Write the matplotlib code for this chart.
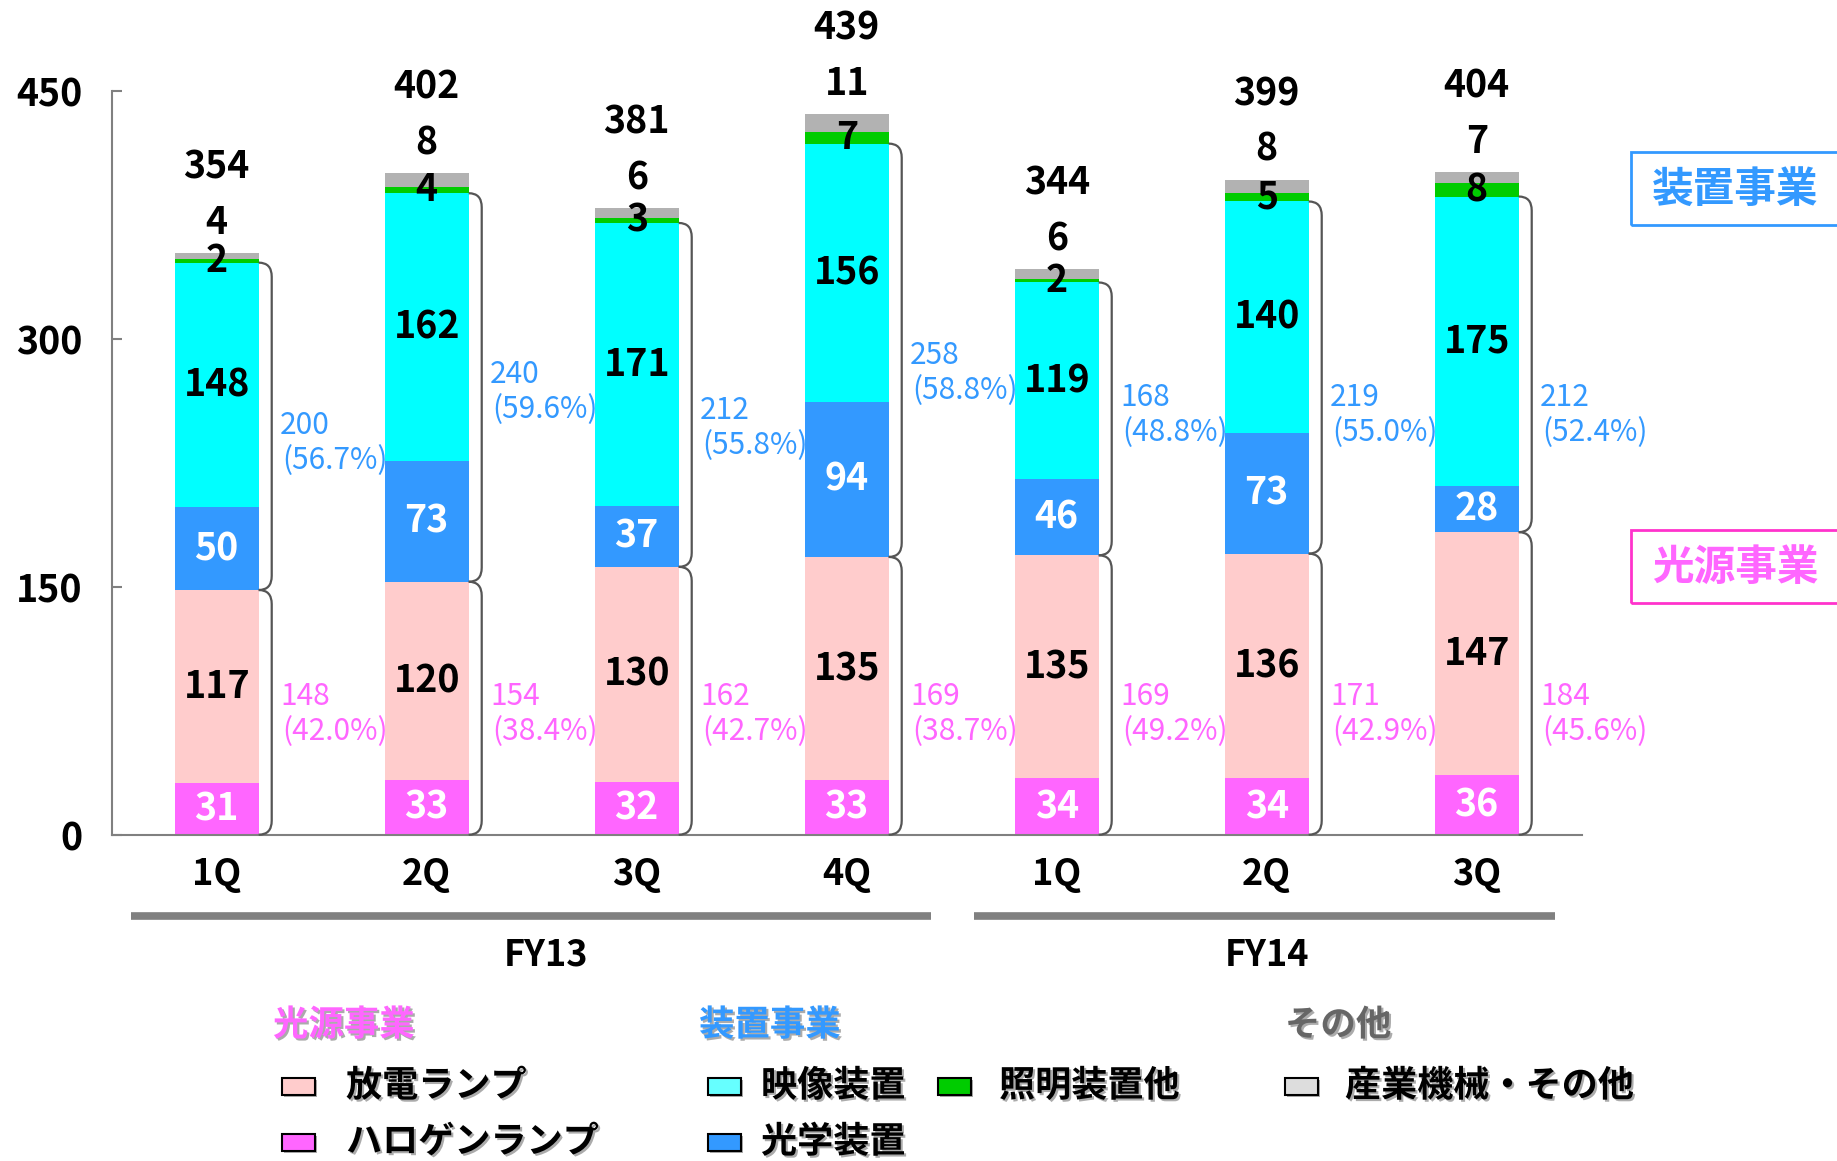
import matplotlib
matplotlib.use('Agg')
import matplotlib.pyplot as plt
import matplotlib.patheffects as pe
from matplotlib.patches import Rectangle, PathPatch
from matplotlib.path import Path
from matplotlib.transforms import blended_transform_factory
import numpy as np

plt.rcParams['font.family'] = ['Noto Sans CJK JP', 'DejaVu Sans']

# data
quarters = ['1Q', '2Q', '3Q', '4Q', '1Q', '2Q', '3Q']
halogen = [31, 33, 32, 33, 34, 34, 36]
discharge = [117, 120, 130, 135, 135, 136, 147]
optical = [50, 73, 37, 94, 46, 73, 28]
video = [148, 162, 171, 156, 119, 140, 175]
lighting = [2, 4, 3, 7, 2, 5, 8]
other = [4, 8, 6, 11, 6, 8, 7]
totals = [354, 402, 381, 439, 344, 399, 404]
light_total = [148, 154, 162, 169, 169, 171, 184]
light_pct = ['42.0%', '38.4%', '42.7%', '38.7%', '49.2%', '42.9%', '45.6%']
equip_total = [200, 240, 212, 258, 168, 219, 212]
equip_pct = ['56.7%', '59.6%', '55.8%', '58.8%', '48.8%', '55.0%', '52.4%']
groups = ['FY13', 'FY14']

C_HAL = '#FF66FF'
C_DIS = '#FFCCCC'
C_OPT = '#3399FF'
C_VID = '#00FFFF'
C_LIT = '#00CC00'
C_OTH = '#B2B2B2'
BLUE = '#3399FF'
PINK = '#FF66FF'
GRAY = '#808080'

W, H = 1837, 1161
fig = plt.figure(figsize=(W / 100, H / 100), dpi=100)
ax = fig.add_axes([111.7 / W, 1 - 834.7 / H, 1470 / W, 744 / H])

x = np.arange(len(quarters))
bw = 0.4
layers = [
    (halogen, C_HAL, 'white'),
    (discharge, C_DIS, 'black'),
    (optical, C_OPT, 'white'),
    (video, C_VID, 'black'),
    (lighting, C_LIT, 'black'),
    (other, C_OTH, None),
]
bottom = np.zeros(len(x))
bottoms = []
for vals, col, tc in layers:
    vals = np.array(vals, dtype=float)
    ax.bar(x, vals, bw, bottom=bottom, color=col, linewidth=0, zorder=2)
    bottoms.append(bottom.copy())
    if tc:
        for xi, b, v in zip(x, bottom, vals):
            ax.text(xi, b + v / 2, f'{int(v)}', ha='center', va='center',
                    color=tc, fontsize=27, fontweight='bold', zorder=4)
    bottom = bottom + vals
tops = bottom

# other + total labels above each bar
for xi, t, o, tot in zip(x, tops, other, totals):
    ax.annotate(f'{o}', xy=(xi, t), xytext=(0, 22), textcoords='offset points',
                ha='center', va='center', fontsize=27, fontweight='bold',
                annotation_clip=False)
    ax.annotate(f'{tot}', xy=(xi, t), xytext=(0, 62), textcoords='offset points',
                ha='center', va='center', fontsize=27, fontweight='bold',
                annotation_clip=False)


def bracket(xr, y0, y1, dx=0.062, r=8.5):
    verts = [(xr, y0), (xr + dx, y0), (xr + dx, y0 + r),
             (xr + dx, y1 - r), (xr + dx, y1), (xr, y1)]
    codes = [Path.MOVETO, Path.CURVE3, Path.CURVE3,
             Path.LINETO, Path.CURVE3, Path.CURVE3]
    ax.add_patch(PathPatch(Path(verts, codes), fill=False, edgecolor='#555555',
                           linewidth=1.6, clip_on=False, zorder=3))


# label heights for the segment totals (as placed on the slide)
eq_label_y = [237, 268, 246, 279, 254, 254, 254]
light_label_y = 73

for i, xi in enumerate(x):
    xr = xi + bw / 2
    ls_top = bottoms[2][i]
    eq_top = bottoms[4][i]
    bracket(xr, 0, ls_top)
    bracket(xr, ls_top, eq_top)
    ax.annotate(f'{equip_total[i]}', xy=(xr, eq_label_y[i]), xytext=(15.5, 12.6),
                textcoords='offset points', ha='left', va='center',
                color=BLUE, fontsize=21.5, annotation_clip=False)
    ax.annotate(f'({equip_pct[i]})', xy=(xr, eq_label_y[i]), xytext=(17, -12.6),
                textcoords='offset points', ha='left', va='center',
                color=BLUE, fontsize=21.5, annotation_clip=False)
    ax.annotate(f'{light_total[i]}', xy=(xr, light_label_y), xytext=(15.5, 12.6),
                textcoords='offset points', ha='left', va='center',
                color=PINK, fontsize=21.5, annotation_clip=False)
    ax.annotate(f'({light_pct[i]})', xy=(xr, light_label_y), xytext=(17, -12.6),
                textcoords='offset points', ha='left', va='center',
                color=PINK, fontsize=21.5, annotation_clip=False)

# axes styling
ax.set_xlim(-0.5, 6.5)
ax.set_ylim(0, 450)
for s in ['top', 'right']:
    ax.spines[s].set_visible(False)
for s in ['left', 'bottom']:
    ax.spines[s].set_color(GRAY)
    ax.spines[s].set_linewidth(1.5)
ax.set_yticks([0, 150, 300, 450])
ax.tick_params(axis='y', direction='in', length=7, width=1.5, color=GRAY,
               labelsize=27, pad=21)
for lbl in ax.get_yticklabels():
    lbl.set_fontweight('bold')
ax.set_xticks([])

# quarter labels, fiscal-year bars
tr = blended_transform_factory(ax.transData, ax.transAxes)
for xi, q in zip(x, quarters):
    ax.text(xi, -0.054, q, transform=tr, ha='center', va='center',
            fontsize=26, fontweight='bold')
for name, (a, b), xc in zip(groups, [(-0.41, 3.40), (3.605, 6.375)], [1.57, 5.0]):
    ax.plot([a, b], [-0.109, -0.109], transform=tr, color=GRAY, linewidth=5.5,
            solid_capstyle='butt', clip_on=False)
    ax.text(xc, -0.162, name, transform=tr, ha='center', va='center',
            fontsize=26, fontweight='bold')


def fx(px):
    return px / W


def fy(py):
    return 1 - py / H


# segment boxes at the right edge
fig.patches.append(Rectangle((fx(1631), fy(225)), 0.2, 73 / H, transform=fig.transFigure,
                             fill=False, edgecolor=BLUE, linewidth=2))
fig.text(fx(1735), fy(190), '装置事業', ha='center', va='center', color=BLUE,
         fontsize=30, fontweight='bold')
fig.patches.append(Rectangle((fx(1631), fy(603)), 0.2, 73 / H, transform=fig.transFigure,
                             fill=False, edgecolor='#FF33CC', linewidth=2))
fig.text(fx(1735), fy(568), '光源事業', ha='center', va='center', color=PINK,
         fontsize=30, fontweight='bold')

# legend
shadow = [pe.withSimplePatchShadow(offset=(1.5, -1.5), shadow_rgbFace='#888888', alpha=0.7)]
headers = [('光源事業', 273, PINK), ('装置事業', 699, BLUE), ('その他', 1285, '#666666')]
for txt, px0, col in headers:
    fig.text(fx(px0), fy(1025), txt, ha='left', va='center', color=col,
             fontsize=25.5, fontweight='bold', path_effects=shadow)

legend_items = [
    ('放電ランプ', C_DIS, 282, 346, 1086),
    ('ハロゲンランプ', C_HAL, 282, 346, 1142),
    ('映像装置', '#66FFFF', 708, 761, 1086),
    ('光学装置', C_OPT, 708, 761, 1142),
    ('照明装置他', C_LIT, 938, 999, 1086),
    ('産業機械・その他', '#DDDDDD', 1285, 1345, 1086),
]
for txt, col, pxp, pxt, py in legend_items:
    fig.patches.append(Rectangle((fx(pxp), fy(py + 8.5)), 33 / W, 17 / H,
                                 transform=fig.transFigure, facecolor=col,
                                 edgecolor='black', linewidth=1.5,
                                 path_effects=shadow))
    fig.text(fx(pxt), fy(py), txt, ha='left', va='center', color='black',
             fontsize=26, fontweight='bold', path_effects=shadow)

fig.savefig('out.png', dpi=100)
